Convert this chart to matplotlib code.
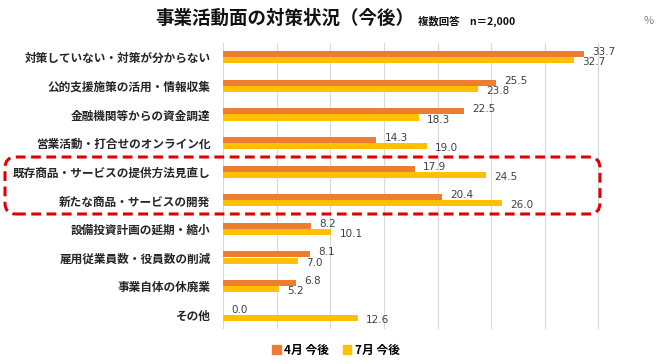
import matplotlib
matplotlib.use("Agg")
import matplotlib.pyplot as plt
from matplotlib.patches import FancyBboxPatch, Patch
from matplotlib.transforms import IdentityTransform
import numpy as np

plt.rcParams['font.family'] = ['Noto Sans CJK JP', 'DejaVu Sans']

categories = [
    "対策していない・対策が分からない",
    "公的支援施策の活用・情報収集",
    "金融機関等からの資金調達",
    "営業活動・打合せのオンライン化",
    "既存商品・サービスの提供方法見直し",
    "新たな商品・サービスの開発",
    "設備投資計画の延期・縮小",
    "雇用従業員数・役員数の削減",
    "事業自体の休廃業",
    "その他",
]
april = [33.7, 25.5, 22.5, 14.3, 17.9, 20.4, 8.2, 8.1, 6.8, 0.0]
july = [32.7, 23.8, 18.3, 19.0, 24.5, 26.0, 10.1, 7.0, 5.2, 12.6]
series_names = ["4月 今後", "7月 今後"]

W, H = 667, 364
fig = plt.figure(figsize=(W / 100, H / 100), dpi=100)

# plot area in pixels: x 223..652, y 43..329
ax = fig.add_axes([223 / W, 1 - 329 / H, (652 - 223) / W, (329 - 43) / H])

orange = "#ED7D31"
yellow = "#FFC000"
y = np.arange(len(categories))
h = 0.21

ax.barh(y - h / 2, april, height=h, color=orange, zorder=3)
ax.barh(y + h / 2, july, height=h, color=yellow, zorder=3)

for i in range(len(categories)):
    ax.annotate(f"{april[i]:.1f}", (april[i], y[i] - h / 2), xytext=(8, 2),
                textcoords="offset pixels", va="center", ha="left",
                fontsize=7.5, color="#404040", family="DejaVu Sans")
    ax.annotate(f"{july[i]:.1f}", (july[i], y[i] + h / 2), xytext=(8, -2),
                textcoords="offset pixels", va="center", ha="left",
                fontsize=7.5, color="#404040", family="DejaVu Sans")

ax.set_xlim(0, 40)
ax.set_xticks(np.arange(0, 41, 5))
ax.set_ylim(len(categories) - 0.5, -0.5)
ax.set_yticks(y)
ax.set_yticklabels(categories, fontsize=8.4, fontweight="bold", color="#262626")
ax.tick_params(axis="y", length=0, pad=9)
ax.tick_params(axis="x", length=0, labelbottom=False)
ax.grid(axis="x", color="#d9d9d9", linewidth=0.8, zorder=0)
for s in ax.spines.values():
    s.set_visible(False)

# title
fig.text(155 / W, 1 - 18 / H, "事業活動面の対策状況（今後）", fontsize=13.3,
         fontweight="bold", ha="left", va="center", color="#111111")
fig.text(418 / W, 1 - 21 / H, "複数回答　n＝2,000", fontsize=7.5,
         fontweight="bold", ha="left", va="center", color="#111111")
fig.text(649 / W, 1 - 21 / H, "%", fontsize=8, ha="center", va="center",
         color="#808080")

# legend
handles = [Patch(color=orange), Patch(color=yellow)]
leg = fig.legend(handles, series_names, loc="center", bbox_to_anchor=(336 / W, 1 - 350 / H),
                 ncol=2, frameon=False, handlelength=0.7, handleheight=0.7,
                 handletextpad=0.3, columnspacing=1.2,
                 prop={"family": "Noto Sans CJK JP", "weight": "bold", "size": 8.5})

# red dashed highlight box (pixel coordinates)
box = FancyBboxPatch((5, H - 214), 595, 57, boxstyle="round,pad=0,rounding_size=11",
                     transform=IdentityTransform(), fill=False, edgecolor="#E00000",
                     linewidth=2.2, linestyle=(0, (3.2, 1.8)), zorder=10)
fig.add_artist(box)

fig.savefig("out.png", dpi=100)
